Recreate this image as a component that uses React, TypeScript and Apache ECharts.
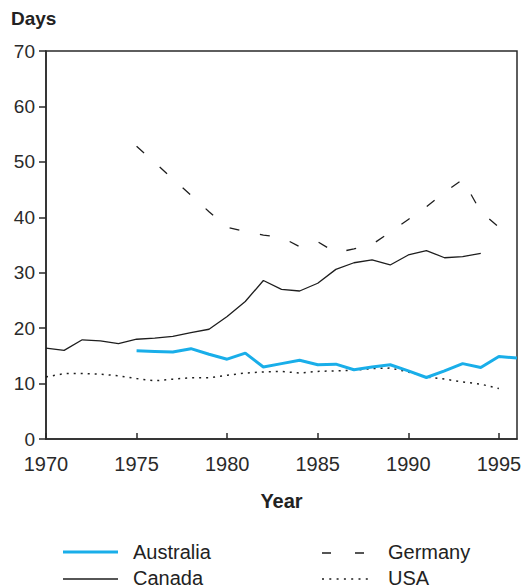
import React, { useEffect, useRef } from "react";
import * as echarts from "echarts";

const years: number[] = [1970,1971,1972,1973,1974,1975,1976,1977,1978,1979,1980,1981,1982,1983,1984,1985,1986,1987,1988,1989,1990,1991,1992,1993,1994,1995,1996];

const australiaYears: number[] = [1975,1976,1977,1978,1979,1980,1981,1982,1983,1984,1985,1986,1987,1988,1989,1990,1991,1992,1993,1994,1995,1996];
const australia: number[] = [15.9,15.8,15.7,16.3,15.3,14.4,15.5,13.0,13.6,14.2,13.4,13.5,12.5,13.0,13.4,12.3,11.1,12.3,13.6,12.9,14.9,14.6];

const canadaYears: number[] = [1970,1971,1972,1973,1974,1975,1976,1977,1978,1979,1980,1981,1982,1983,1984,1985,1986,1987,1988,1989,1990,1991,1992,1993,1994];
const canada: number[] = [16.4,16.0,17.9,17.7,17.2,18.0,18.2,18.5,19.2,19.8,22.1,24.8,28.6,27.0,26.7,28.1,30.6,31.8,32.3,31.4,33.2,34.0,32.7,32.9,33.5];

const germanyYears: number[] = [1975,1976,1977,1978,1979,1980,1981,1982,1983,1984,1985,1986,1987,1988,1989,1990,1991,1992,1993,1994,1995];
const germany: number[] = [52.8,49.9,46.9,44.0,41.0,38.2,37.4,36.8,36.4,34.7,35.6,33.6,34.3,35.1,37.3,39.6,41.9,44.5,46.8,41.0,38.2];

const usaYears: number[] = [1970,1971,1972,1973,1974,1975,1976,1977,1978,1979,1980,1981,1982,1983,1984,1985,1986,1987,1988,1989,1990,1991,1992,1993,1994,1995];
const usa: number[] = [11.2,11.8,11.8,11.7,11.4,10.9,10.5,10.8,11.05,11.05,11.5,11.9,12.1,12.2,11.9,12.2,12.3,12.4,12.7,12.8,12.1,11.2,10.8,10.3,9.9,9.1];

const yTicks: number[] = [0, 10, 20, 30, 40, 50, 60, 70];

const seriesNames: string[] = ["Australia", "Canada", "Germany", "USA"];

const FONT = "'Liberation Sans', Arial, Helvetica, sans-serif";
const AXIS = "#2a2a2a";
const CYAN = "#19aee9";
const INK = "#1e1e1e";

const pairs = (xs: number[], ys: number[]) => xs.map((x, i) => [x, ys[i]]);

export default function App() {
  const ref = useRef<HTMLDivElement>(null);
  useEffect(() => {
    if (!ref.current) return;
    const chart = echarts.init(ref.current, null, { renderer: "svg" });

    const legendStyles = [
      { stroke: CYAN, lineWidth: 3, lineDash: null as any },
      { stroke: INK, lineWidth: 1.3, lineDash: null as any },
      { stroke: INK, lineWidth: 1.3, lineDash: [9, 24] },
      { stroke: INK, lineWidth: 1.5, lineDash: [2, 5.3] },
    ];
    const legendPos = [
      { x1: 63, x2: 118, y: 552, tx: 133, ty: 552 },
      { x1: 63, x2: 118, y: 579, tx: 133, ty: 578 },
      { x1: 322, x2: 372, y: 553, tx: 388, ty: 552 },
      { x1: 322, x2: 372, y: 579, tx: 388, ty: 578 },
    ];
    const legendGraphics: any[] = [];
    seriesNames.forEach((name, i) => {
      const p = legendPos[i];
      const s = legendStyles[i];
      legendGraphics.push({
        type: "line",
        shape: { x1: p.x1, y1: p.y, x2: p.x2, y2: p.y },
        style: { stroke: s.stroke, lineWidth: s.lineWidth, lineDash: s.lineDash || undefined },
        silent: true,
      });
      legendGraphics.push({
        type: "text",
        x: p.tx,
        y: p.ty,
        style: {
          text: name,
          font: `20px ${FONT}`,
          fill: "#222",
          textVerticalAlign: "middle",
          verticalAlign: "middle",
          textAlign: "left",
        },
        silent: true,
      });
    });

    chart.setOption({
      animation: false,
      backgroundColor: "#ffffff",
      textStyle: { fontFamily: FONT },
      title: {
        text: "Days",
        left: 11,
        top: 9,
        padding: 0,
        textStyle: { fontFamily: FONT, fontSize: 19, fontWeight: "bold", color: "#222" },
      },
      grid: {
        left: 46,
        right: 12,
        top: 51,
        bottom: 149,
        show: true,
        borderColor: AXIS,
        borderWidth: 1.5,
        backgroundColor: "transparent",
      },
      graphic: legendGraphics,
      xAxis: {
        type: "value",
        min: years[0],
        max: years[years.length - 1],
        interval: 5,
        name: "Year",
        nameLocation: "middle",
        nameGap: 52,
        nameTextStyle: { fontFamily: FONT, fontSize: 20, fontWeight: "bold", color: "#222" },
        axisLine: { show: true, lineStyle: { color: AXIS, width: 1.5 } },
        axisTick: { show: true, inside: true, length: 6, lineStyle: { color: AXIS, width: 1.5 } },
        axisLabel: {
          fontFamily: FONT,
          fontSize: 20,
          color: "#2a2a2a",
          margin: 15,
          showMaxLabel: false,
          formatter: (v: number) => (v % 5 === 0 ? String(v) : ""),
        },
        splitLine: { show: false },
      },
      yAxis: {
        type: "value",
        min: yTicks[0],
        max: yTicks[yTicks.length - 1],
        interval: 10,
        axisLine: { show: true, lineStyle: { color: AXIS, width: 1.5 } },
        axisTick: { show: true, inside: false, length: 7, lineStyle: { color: AXIS, width: 1.5 } },
        axisLabel: { fontFamily: FONT, fontSize: 19, color: "#2a2a2a", margin: 11 },
        splitLine: { show: false },
      },
      series: [
        {
          name: seriesNames[0],
          type: "line",
          symbol: "none",
          data: pairs(australiaYears, australia),
          lineStyle: { color: CYAN, width: 3 },
          itemStyle: { color: CYAN },
          z: 5,
        },
        {
          name: seriesNames[1],
          type: "line",
          symbol: "none",
          data: pairs(canadaYears, canada),
          lineStyle: { color: INK, width: 1.3 },
          itemStyle: { color: INK },
        },
        {
          name: seriesNames[2],
          type: "line",
          symbol: "none",
          data: pairs(germanyYears, germany),
          lineStyle: { color: INK, width: 1.3, type: [10, 21] },
          itemStyle: { color: INK },
        },
        {
          name: seriesNames[3],
          type: "line",
          symbol: "none",
          data: pairs(usaYears, usa),
          lineStyle: { color: INK, width: 1.5, type: [2, 5] },
          itemStyle: { color: INK },
        },
      ],
    });
    return () => chart.dispose();
  }, []);
  return (
    <div
      ref={ref}
      style={{ position: "absolute", left: 0, top: 0, width: 529, height: 588 }}
    />
  );
}
